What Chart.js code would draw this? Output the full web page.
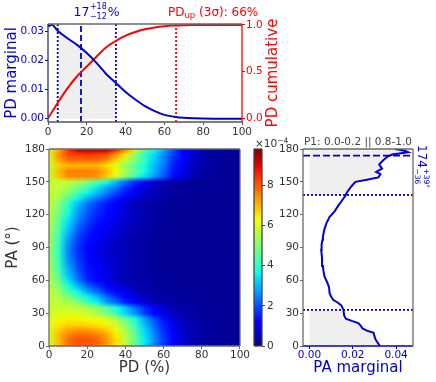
<!DOCTYPE html>
<html><head><meta charset="utf-8">
<script src="https://cdn.jsdelivr.net/npm/chart.js@4.4.1/dist/chart.umd.min.js"></script>
<style>
html,body{margin:0;padding:0;background:#fff}
#wrap{position:relative;width:436px;height:382px;overflow:hidden;background:#fff}
canvas{position:absolute;display:block}
</style></head><body><div id="wrap">
<canvas id="cHeat" width="250" height="247" style="left:0px;top:135px"></canvas>
<canvas id="cBar" width="50" height="247" style="left:246px;top:135px"></canvas>
<canvas id="cPA" width="186" height="247" style="left:250px;top:135px"></canvas>
<canvas id="cTop" width="290" height="140" style="left:0px;top:0px"></canvas>
</div>
<script>
// ---------------- data ----------------
const pdValues     = [0,2,5,10,15,20,25,30,35,40,45,50,55,60,65,70,75,80,85,90,95,100];
const pdMarginal   = [0.0318,0.0323,0.0303,0.0277,0.0254,0.0226,0.0192,0.0154,0.0123,0.0092,0.0066,0.0043,0.0026,0.0013,0.0007,0.0003,0.00012,0.00005,0.00002,0.00001,0.00001,0.00001];
const pdCumulative = [0,0.065,0.165,0.32,0.45,0.555,0.66,0.76,0.83,0.885,0.925,0.953,0.972,0.985,0.993,0.997,0.999,1,1,1,1,1];
const pdMedian = 17, pdErrPlus = 18, pdErrMinus = 12, pdUp3sigma = 66;

const paAngles   = [0,3,6,9,12,14,16,19,21,23,25,28,33,37,40,42,45,48,54,58,63,68,73,80,88,93,97,100,106,112,118,123,128,132,138,140,146,150,152,154,157,159,162,166,170,173,175,177,178.5,180];
const paMarginal = [0.0325,0.0315,0.0305,0.0300,0.0296,0.0265,0.0245,0.0235,0.0225,0.0195,0.0168,0.0160,0.0157,0.0147,0.0128,0.0110,0.0100,0.0093,0.0090,0.0082,0.0070,0.0065,0.0062,0.0058,0.0054,0.0056,0.0060,0.0062,0.0068,0.0078,0.0093,0.0116,0.0132,0.0147,0.0168,0.0172,0.0194,0.0212,0.0265,0.0318,0.0328,0.0308,0.0335,0.0322,0.0342,0.0360,0.0382,0.0457,0.0440,0.0395];
const paBest = 174, paErrPlus = 39, paErrMinus = 36;
const paTitle = 'P1: 0.0-0.2 || 0.8-1.0';

// heat map: rows = PA (0..180 step 5), columns = PD (0..100 step 5), density in units of 1e-4
const hmPD = [0,5,10,15,20,25,30,35,40,45,50,55,60,65,70,75,80,85,90,95,100];
const hmPA = [0,5,10,15,20,25,30,35,40,45,50,55,60,65,70,75,80,85,90,95,100,105,110,115,120,125,130,135,140,145,150,155,160,165,170,175,180];
const heatDensity = [
 [6.0,6.9,7.7,8.0,8.0,7.8,7.3,6.5,5.6,4.5,3.4,2.5,1.7,1.1,0.65,0.4,0.3,0.25,0.2,0.2,0.2],
 [6.0,7.0,7.8,8.1,8.1,7.9,7.4,6.6,5.7,4.6,3.5,2.6,1.8,1.1,0.7,0.45,0.3,0.25,0.2,0.2,0.2],
 [6.0,7.0,7.6,7.8,7.8,7.6,7.2,6.5,5.6,4.5,3.4,2.5,1.7,1.1,0.65,0.4,0.3,0.25,0.2,0.2,0.2],
 [6.0,6.8,7.2,7.3,7.3,7.1,6.8,6.2,5.4,4.4,3.3,2.4,1.6,1.0,0.6,0.4,0.3,0.25,0.2,0.2,0.2],
 [6.1,6.5,6.7,6.7,6.6,6.5,6.3,5.8,5.0,4.0,3.0,2.2,1.5,0.9,0.55,0.4,0.3,0.25,0.2,0.2,0.2],
 [6.0,6.3,6.4,6.4,6.3,6.2,6.0,5.5,4.6,3.7,2.8,2.0,1.3,0.8,0.5,0.35,0.3,0.25,0.2,0.2,0.2],
 [5.9,6.0,6.0,6.0,5.8,5.4,4.8,4.0,3.3,2.6,1.8,1.2,0.8,0.5,0.35,0.3,0.25,0.2,0.2,0.2,0.2],
 [5.8,5.8,5.8,5.7,5.5,5.1,4.5,3.8,3.1,2.3,1.6,1.1,0.7,0.45,0.35,0.3,0.25,0.2,0.2,0.2,0.2],
 [5.8,5.7,5.5,5.0,4.2,3.6,2.8,2.2,1.5,1.1,0.7,0.45,0.35,0.3,0.25,0.25,0.2,0.2,0.2,0.2,0.2],
 [5.7,5.5,4.9,4.2,3.6,3.0,2.3,1.7,1.2,0.85,0.55,0.4,0.3,0.25,0.25,0.2,0.2,0.2,0.2,0.2,0.2],
 [5.7,5.3,4.2,3.6,2.8,2.3,1.6,1.2,0.9,0.6,0.4,0.3,0.25,0.25,0.2,0.2,0.2,0.2,0.2,0.2,0.2],
 [5.6,4.9,3.8,3.0,2.2,1.7,1.2,0.9,0.6,0.45,0.35,0.3,0.25,0.2,0.2,0.2,0.2,0.2,0.2,0.2,0.2],
 [5.6,4.6,3.4,2.4,1.6,1.2,0.9,0.6,0.45,0.35,0.3,0.25,0.25,0.2,0.2,0.2,0.2,0.2,0.2,0.2,0.2],
 [5.5,4.4,3.1,2.2,1.5,1.1,0.85,0.6,0.45,0.35,0.3,0.25,0.2,0.2,0.2,0.2,0.2,0.2,0.2,0.2,0.2],
 [5.4,4.2,2.9,2.0,1.4,1.05,0.8,0.6,0.45,0.35,0.3,0.25,0.2,0.2,0.2,0.2,0.2,0.2,0.2,0.2,0.2],
 [5.35,4.1,2.7,1.9,1.35,1.0,0.78,0.6,0.45,0.35,0.3,0.25,0.2,0.2,0.2,0.2,0.2,0.2,0.2,0.2,0.2],
 [5.3,4.0,2.6,1.8,1.3,0.95,0.75,0.6,0.45,0.35,0.3,0.25,0.2,0.2,0.2,0.2,0.2,0.2,0.2,0.2,0.2],
 [5.3,3.9,2.5,1.7,1.25,0.9,0.72,0.55,0.45,0.35,0.3,0.25,0.2,0.2,0.2,0.2,0.2,0.2,0.2,0.2,0.2],
 [5.3,3.9,2.5,1.7,1.2,0.9,0.7,0.55,0.45,0.35,0.3,0.25,0.2,0.2,0.2,0.2,0.2,0.2,0.2,0.2,0.2],
 [5.35,4.0,2.6,1.8,1.3,1.0,0.78,0.6,0.48,0.38,0.3,0.25,0.2,0.2,0.2,0.2,0.2,0.2,0.2,0.2,0.2],
 [5.4,4.1,2.8,1.9,1.4,1.1,0.85,0.65,0.5,0.4,0.3,0.25,0.2,0.2,0.2,0.2,0.2,0.2,0.2,0.2,0.2],
 [5.45,4.3,3.0,2.1,1.55,1.2,0.95,0.72,0.55,0.42,0.32,0.25,0.2,0.2,0.2,0.2,0.2,0.2,0.2,0.2,0.2],
 [5.5,4.4,3.2,2.3,1.7,1.3,1.0,0.8,0.6,0.45,0.35,0.3,0.25,0.2,0.2,0.2,0.2,0.2,0.2,0.2,0.2],
 [5.55,4.55,3.4,2.5,1.85,1.45,1.15,0.9,0.68,0.5,0.38,0.3,0.25,0.2,0.2,0.2,0.2,0.2,0.2,0.2,0.2],
 [5.6,4.7,3.6,2.7,2.0,1.6,1.3,1.0,0.75,0.55,0.4,0.3,0.25,0.2,0.2,0.2,0.2,0.2,0.2,0.2,0.2],
 [5.65,4.85,3.75,2.85,2.15,1.7,1.35,1.0,0.72,0.52,0.38,0.3,0.25,0.2,0.2,0.2,0.2,0.2,0.2,0.2,0.2],
 [5.7,5.0,3.9,3.0,2.3,1.8,1.4,1.0,0.7,0.5,0.35,0.3,0.25,0.2,0.2,0.2,0.2,0.2,0.2,0.2,0.2],
 [5.75,5.3,4.4,3.6,2.9,2.4,1.9,1.4,1.0,0.7,0.5,0.38,0.3,0.25,0.2,0.2,0.2,0.2,0.2,0.2,0.2],
 [5.8,5.6,5.0,4.3,3.6,3.0,2.5,1.9,1.4,1.0,0.65,0.45,0.35,0.3,0.25,0.2,0.2,0.2,0.2,0.2,0.2],
 [5.8,5.7,5.4,4.8,4.1,3.5,2.9,2.3,1.7,1.2,0.8,0.55,0.4,0.3,0.25,0.2,0.2,0.2,0.2,0.2,0.2],
 [5.8,5.8,5.7,5.4,5.0,4.4,3.7,3.0,2.3,1.6,1.0,0.6,0.4,0.3,0.25,0.2,0.2,0.2,0.2,0.2,0.2],
 [5.8,6.9,7.5,7.5,7.5,7.4,6.8,6.0,5.0,4.2,3.4,2.7,2.0,1.3,0.8,0.5,0.3,0.25,0.2,0.2,0.2],
 [5.8,7.0,7.6,7.6,7.6,7.5,7.0,6.3,5.4,4.5,3.7,3.0,2.2,1.4,0.9,0.5,0.3,0.25,0.2,0.2,0.2],
 [5.8,6.8,7.0,7.0,7.0,7.0,6.6,6.0,5.2,4.4,3.7,3.0,2.3,1.5,1.0,0.6,0.35,0.25,0.2,0.2,0.2],
 [6.0,7.2,7.8,7.8,7.8,7.8,7.4,6.7,5.8,4.8,4.0,3.2,2.5,1.6,1.0,0.6,0.4,0.3,0.25,0.2,0.2],
 [6.0,7.5,8.2,8.3,8.4,8.3,8.2,7.3,6.5,5.0,4.0,3.3,2.5,1.8,1.2,0.8,0.4,0.3,0.25,0.2,0.2],
 [5.8,7.0,8.5,9.5,9.6,9.6,9.5,8.8,7.5,6.5,4.5,3.8,3.0,2.0,1.2,0.8,0.4,0.3,0.25,0.2,0.2]
];
const cbMax = 9.8;

// tick labels
const pdTicks = [0,20,40,60,80,100];
const paTicks = [0,30,60,90,120,150,180];
const pdMargTicks = [0,0.01,0.02,0.03];
const pdCumTicks = [0,0.5,1.0];
const paMargTicks = [0,0.02,0.04];
const cbTicks = [0,2,4,6,8];

// ---------------- style ----------------
const BLUE='#0000cd', RED='#ff0000', FILLG='#efefef', SPINE='#6a6a6a', TXT='#333333';
const FAM="'DejaVu Sans','Liberation Sans',sans-serif";
Chart.defaults.font.family=FAM; Chart.defaults.font.size=10.5; Chart.defaults.color=TXT;
const F=s=>s+'px '+FAM;
const setTicks=arr=>s=>{s.ticks=arr.map(v=>({value:v}));};
const tickGrid=c=>({display:true,drawOnChartArea:false,drawTicks:true,tickLength:3,tickColor:c||SPINE,lineWidth:1});
const baseOpts={responsive:false,animation:false,devicePixelRatio:1,events:[],
  plugins:{legend:{display:false},tooltip:{enabled:false},filler:{drawTime:'beforeDatasetsDraw'}}};

function jet(f){
  f=Math.max(0,Math.min(1,f));
  const seg=p=>{for(let i=1;i<p.length;i++){if(f<=p[i][0]){const a=p[i-1],b=p[i];return a[1]+(b[1]-a[1])*(f-a[0])/(b[0]-a[0]);}}return p[p.length-1][1];};
  return [seg([[0,0],[0.35,0],[0.66,1],[0.89,1],[1,0.5]]),seg([[0,0],[0.125,0],[0.375,1],[0.64,1],[0.91,0],[1,0]]),seg([[0,0.5],[0.11,1],[0.34,1],[0.65,0],[1,0]])].map(v=>Math.round(v*255));
}
function spines(ctx,a,c){
  ctx.save();ctx.lineWidth=1.3;
  const L=(col,x1,y1,x2,y2)=>{ctx.strokeStyle=col;ctx.beginPath();ctx.moveTo(x1,y1);ctx.lineTo(x2,y2);ctx.stroke();};
  L(c.top,a.left,a.top,a.right,a.top);L(c.bottom,a.left,a.bottom,a.right,a.bottom);
  L(c.left,a.left,a.top,a.left,a.bottom);L(c.right,a.right,a.top,a.right,a.bottom);
  ctx.restore();
}
function rotText(ctx,s,x,y,size,color,ang){
  ctx.save();ctx.translate(x,y);ctx.rotate(ang);ctx.font=F(size);ctx.fillStyle=color;
  ctx.textAlign='center';ctx.textBaseline='middle';ctx.fillText(s,0,0);ctx.restore();
}
function line(ctx,x1,y1,x2,y2,col,dash,w){
  ctx.save();ctx.strokeStyle=col;ctx.lineWidth=w||1.8;ctx.setLineDash(dash);
  ctx.beginPath();ctx.moveTo(x1,y1);ctx.lineTo(x2,y2);ctx.stroke();ctx.restore();
}

// ---------------- top chart: PD marginal + cumulative ----------------
const pdLower = pdMedian - pdErrMinus, pdUpper = pdMedian + pdErrPlus;
const topDecor={id:'topDecor',
  beforeDatasetsDraw(chart){
    const {ctx,chartArea:a,scales:{x}}=chart;
    const v=(val,col,dash)=>{const px=x.getPixelForValue(val);line(ctx,px,a.bottom,px,a.top,col,dash,1.8);};
    v(pdLower,BLUE,[2,2]);v(pdUpper,BLUE,[2,2]);v(pdMedian,BLUE,[6,3]);v(pdUp3sigma,RED,[2,2]);
  },
  afterDraw(chart){
    const {ctx,chartArea:a}=chart;
    spines(ctx,a,{top:SPINE,bottom:'#555',left:'#303070',right:RED});
    const cy=(a.top+a.bottom)/2;
    rotText(ctx,'PD marginal',12,cy,15,BLUE,-Math.PI/2);
    rotText(ctx,'PD cumulative',273,cy,15,RED,-Math.PI/2);
    ctx.save();ctx.textBaseline='alphabetic';ctx.textAlign='left';
    // blue title: median with errors
    ctx.fillStyle=BLUE;ctx.font=F(12.5);
    let xx=73.5;const s1=String(pdMedian);ctx.fillText(s1,xx,15.5);xx+=ctx.measureText(s1).width+0.5;
    ctx.font=F(8);const sp='+'+pdErrPlus, sb='\u2212'+pdErrMinus;
    ctx.fillText(sp,xx,8.5);ctx.fillText(sb,xx,18.5);
    xx+=Math.max(ctx.measureText(sp).width,ctx.measureText(sb).width)+1;
    ctx.font=F(12.5);ctx.fillText('%',xx,15.5);
    // red title
    ctx.fillStyle=RED;ctx.font=F(12);
    let rx=168;ctx.fillText('PD',rx,15.5);rx+=ctx.measureText('PD').width;
    ctx.font=F(8.5);ctx.fillText('up',rx,18);rx+=ctx.measureText('up').width;
    ctx.font=F(12);ctx.fillText(' (3\u03c3): '+pdUp3sigma+'%',rx,15.5);
    ctx.restore();
  }
};
const pdFillIdx = pdValues.map((v,i)=>i).filter(i=>pdValues[i]>=pdLower && pdValues[i]<=pdUpper);
new Chart(document.getElementById('cTop'),{
  type:'scatter',
  data:{datasets:[
    {data:pdValues.map((v,i)=>({x:v,y:pdMarginal[i]})),yAxisID:'y',showLine:true,borderColor:BLUE,borderWidth:2,pointRadius:0,cubicInterpolationMode:'monotone',fill:false},
    {data:pdValues.map((v,i)=>({x:v,y:pdCumulative[i]})),yAxisID:'y2',showLine:true,borderColor:RED,borderWidth:2,pointRadius:0,cubicInterpolationMode:'monotone',fill:false},
    {data:pdFillIdx.map(i=>({x:pdValues[i],y:pdMarginal[i]})),yAxisID:'y',showLine:true,borderWidth:0,borderColor:'rgba(0,0,0,0)',backgroundColor:FILLG,pointRadius:0,cubicInterpolationMode:'monotone',fill:'origin'}
  ]},
  options:Object.assign({},baseOpts,{
    layout:{padding:{top:24,left:0,right:0,bottom:0}},
    scales:{
      x:{type:'linear',min:0,max:100,afterFit:s=>{s.height=18;},afterBuildTicks:setTicks(pdTicks),grid:tickGrid('#555'),border:{display:false},ticks:{color:TXT,padding:1,maxRotation:0}},
      y:{type:'linear',position:'left',min:-0.00114,max:0.0326,afterFit:s=>{s.width=48;},afterBuildTicks:setTicks(pdMargTicks),grid:tickGrid(BLUE),border:{display:false},ticks:{color:BLUE,padding:1,callback:v=>Number(v).toFixed(2)}},
      y2:{type:'linear',position:'right',min:-0.04,max:1.01,afterFit:s=>{s.width=48;},afterBuildTicks:setTicks(pdCumTicks),grid:tickGrid(RED),border:{display:false},ticks:{color:RED,padding:1,callback:v=>Number(v).toFixed(1)}}
    }
  }),
  plugins:[topDecor]
});

// ---------------- heat map ----------------
const heatPlugin={id:'heat',
  beforeDatasetsDraw(chart){
    const {ctx,chartArea:a,scales:{x,y}}=chart;
    const nC=hmPD.length,nR=hmPA.length;
    const off=document.createElement('canvas');off.width=nC;off.height=nR;
    const o=off.getContext('2d');const img=o.createImageData(nC,nR);
    for(let r=0;r<nR;r++)for(let c=0;c<nC;c++){
      const col=jet(heatDensity[r][c]/cbMax);const k=((nR-1-r)*nC+c)*4;
      img.data[k]=col[0];img.data[k+1]=col[1];img.data[k+2]=col[2];img.data[k+3]=255;
    }
    o.putImageData(img,0,0);
    const dx=(hmPD[1]-hmPD[0])/2,dy=(hmPA[1]-hmPA[0])/2;
    const x0=x.getPixelForValue(hmPD[0]-dx),x1=x.getPixelForValue(hmPD[nC-1]+dx);
    const y0=y.getPixelForValue(hmPA[nR-1]+dy),y1=y.getPixelForValue(hmPA[0]-dy);
    ctx.save();ctx.beginPath();ctx.rect(a.left,a.top,a.right-a.left,a.bottom-a.top);ctx.clip();
    ctx.imageSmoothingEnabled=true;ctx.imageSmoothingQuality='low';
    ctx.drawImage(off,x0,y0,x1-x0,y1-y0);ctx.restore();
  },
  afterDraw(chart){
    const {ctx,chartArea:a}=chart;
    spines(ctx,a,{top:SPINE,bottom:SPINE,left:SPINE,right:SPINE});
    rotText(ctx,'PA (\u00b0)',13.5,(a.top+a.bottom)/2,15,TXT,-Math.PI/2);
    rotText(ctx,'PD (%)',(a.left+a.right)/2,a.bottom+22,15,TXT,0);
  }
};
new Chart(document.getElementById('cHeat'),{
  type:'scatter',data:{datasets:[{data:[],pointRadius:0}]},
  options:Object.assign({},baseOpts,{
    layout:{padding:{top:14,right:8,left:0,bottom:0}},
    scales:{
      x:{type:'linear',min:0,max:100,afterFit:s=>{s.height=36;},afterBuildTicks:setTicks(pdTicks),grid:tickGrid(),border:{display:false},ticks:{color:TXT,padding:0,maxRotation:0}},
      y:{type:'linear',min:0,max:180,afterFit:s=>{s.width=49;},afterBuildTicks:setTicks(paTicks),grid:tickGrid(),border:{display:false},ticks:{color:TXT,padding:1}}
    }
  }),
  plugins:[heatPlugin]
});

// ---------------- colour bar ----------------
const cbPlugin={id:'cb',
  beforeDatasetsDraw(chart){
    const {ctx,chartArea:a,scales:{y}}=chart;
    for(let py=Math.floor(a.top);py<Math.ceil(a.bottom);py++){
      const c=jet(y.getValueForPixel(py+0.5)/cbMax);
      ctx.fillStyle='rgb('+c[0]+','+c[1]+','+c[2]+')';ctx.fillRect(a.left,py,a.right-a.left,1);
    }
  },
  afterDraw(chart){
    const {ctx,chartArea:a}=chart;
    spines(ctx,a,{top:'#444',bottom:'#444',left:'#444',right:'#444'});
    ctx.save();ctx.fillStyle=TXT;ctx.textBaseline='alphabetic';ctx.textAlign='left';
    ctx.font=F(10.5);const b='\u00d710';ctx.fillText(b,a.left+1,a.top-2);
    const w=ctx.measureText(b).width;ctx.font=F(7.5);ctx.fillText('\u22124',a.left+1+w,a.top-6.5);
    ctx.restore();
  }
};
new Chart(document.getElementById('cBar'),{
  type:'scatter',data:{datasets:[{data:[],pointRadius:0}]},
  options:Object.assign({},baseOpts,{
    layout:{padding:{top:14,left:8,right:0,bottom:36}},
    scales:{
      x:{type:'linear',display:false,min:0,max:1},
      y:{type:'linear',position:'right',min:0,max:cbMax,afterFit:s=>{s.width=34;},afterBuildTicks:setTicks(cbTicks),grid:tickGrid('#444'),border:{display:false},ticks:{color:TXT,padding:2}}
    }
  }),
  plugins:[cbPlugin]
});

// ---------------- PA marginal ----------------
const paHi = paBest + paErrPlus - 180;   // wrapped upper bound
const paLo = paBest - paErrMinus;
const paPlugin={id:'pa',
  beforeDatasetsDraw(chart){
    const {ctx,chartArea:a,scales:{x,y}}=chart;
    const x0=x.getPixelForValue(0);
    const pts=paAngles.map((v,i)=>[x.getPixelForValue(paMarginal[i]),y.getPixelForValue(v)]);
    const band=(lo,hi)=>{
      const yt=y.getPixelForValue(hi),yb=y.getPixelForValue(lo);
      ctx.save();ctx.beginPath();ctx.rect(a.left,yt,a.right-a.left,yb-yt);ctx.clip();
      ctx.beginPath();ctx.moveTo(x0,pts[0][1]);pts.forEach(p=>ctx.lineTo(p[0],p[1]));
      ctx.lineTo(x0,pts[pts.length-1][1]);ctx.closePath();ctx.fillStyle=FILLG;ctx.fill();ctx.restore();
    };
    band(paLo,180);band(0,paHi);
    const h=(v,dash)=>{const py=y.getPixelForValue(v);line(ctx,a.left,py,a.right,py,BLUE,dash,1.8);};
    h(paLo,[2,2]);h(paHi,[2,2]);h(paBest,[7,3]);
  },
  afterDraw(chart){
    const {ctx,chartArea:a}=chart;
    spines(ctx,a,{top:SPINE,bottom:BLUE,left:SPINE,right:SPINE});
    const cx=(a.left+a.right)/2;
    ctx.save();ctx.fillStyle='#444';ctx.font=F(10.5);ctx.textAlign='center';ctx.textBaseline='alphabetic';
    ctx.fillText(paTitle,cx,a.top-4.5);ctx.restore();
    rotText(ctx,'PA marginal',cx,a.bottom+22,15,BLUE,0);
    // rotated best value label
    ctx.save();ctx.translate(a.right+5,a.top-4);ctx.rotate(Math.PI/2);ctx.fillStyle=BLUE;
    ctx.textBaseline='alphabetic';ctx.textAlign='left';ctx.font=F(12);
    const s=String(paBest);ctx.fillText(s,0,0);const w=ctx.measureText(s).width+0.5;
    ctx.font=F(7.5);ctx.fillText('+'+paErrPlus+'\u00b0',w,-5.5);ctx.fillText('\u2212'+paErrMinus,w,3.5);
    ctx.restore();
  }
};
new Chart(document.getElementById('cPA'),{
  type:'scatter',
  data:{datasets:[{data:paAngles.map((v,i)=>({x:paMarginal[i],y:v})),showLine:true,pointRadius:0,borderColor:BLUE,borderWidth:2,tension:0,fill:false}]},
  options:Object.assign({},baseOpts,{
    layout:{padding:{top:14,right:23,left:0,bottom:0}},
    scales:{
      x:{type:'linear',min:-0.003,max:0.0478,afterFit:s=>{s.height=36;},afterBuildTicks:setTicks(paMargTicks),grid:tickGrid(BLUE),border:{display:false},ticks:{color:BLUE,padding:0,maxRotation:0,callback:v=>Number(v).toFixed(2)}},
      y:{type:'linear',min:0,max:180,afterFit:s=>{s.width=53;},afterBuildTicks:setTicks(paTicks),grid:tickGrid(),border:{display:false},ticks:{color:TXT,padding:1}}
    }
  }),
  plugins:[paPlugin]
});
</script></body></html>
